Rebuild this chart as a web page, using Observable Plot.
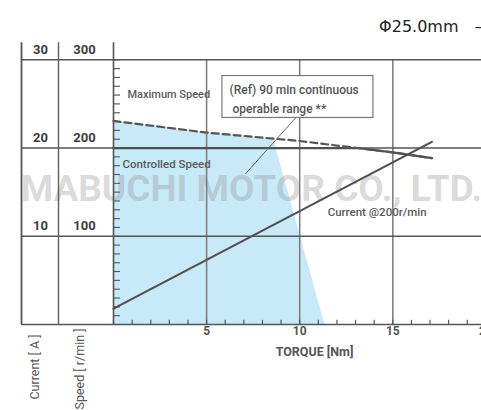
<!DOCTYPE html>
<html><head><meta charset="utf-8">
<script src="https://cdn.jsdelivr.net/npm/d3@7"></script>
<script src="https://cdn.jsdelivr.net/npm/@observablehq/plot@0.6"></script>
<style>
body{margin:0;background:#fff;overflow:hidden}
</style></head><body><div id="chart"></div>
<script>
// Maximum speed curve (dashed)
const maxTorque = [0, 5, 10, 12.5, 15, 17.1];
const maxSpeed = [230.7, 217.5, 208, 201.5, 195, 188.5];
// Controlled speed (solid)
const ctrlTorque = [0, 13.1, 15, 17.1];
const ctrlSpeed = [200, 200, 195, 188.5];
// Current @200r/min
const curTorque = [0, 17.1];
const curAmps = [1.8, 20.7];
// (Ref) 90 min continuous operable range (filled)
const rangeTorque = [0, 5, 8.6, 11.35];
const rangeSpeed = [230.7, 217.5, 210, 0];
// ticks
const speedTicks = [100, 200, 300];
const torqueTicks = [5, 10, 15, 20];
const minorSpeed = d3.range(0, 301, 10);
const minorTorque = d3.range(0, 21, 1);

const maxPts = maxTorque.map((t, i) => ({t, s: maxSpeed[i]}));
const ctrlPts = ctrlTorque.map((t, i) => ({t, s: ctrlSpeed[i]}));
const curPts = curTorque.map((t, i) => ({t, a: curAmps[i]}));
const rangePts = rangeTorque.map((t, i) => ({t, s: rangeSpeed[i]}));

const font = "Roboto, 'Liberation Sans', sans-serif";
const dark = "#505050";

const plot = Plot.plot({
  width: 481, height: 410,
  marginLeft: 113, marginRight: 0, marginTop: 59.3, marginBottom: 86,
  x: {domain: [0, 20], range: [113, 485.4], axis: null},
  y: {domain: [0, 300], axis: null},
  style: {fontFamily: font, background: "white", overflow: "hidden"},
  marks: [
    Plot.areaY(rangePts, {x: "t", y: "s", fill: "#c8e9f8"}),
    Plot.text(["MABUCHI MOTOR CO., LTD."], {frameAnchor: "middle", textAnchor: "middle", dx: -46, dy: -3, fontSize: 37, fontWeight: "bold", fill: "#8c8c8c", fillOpacity: 0.33, ariaLabel: "watermark"}),
    // grid
    Plot.ruleX(torqueTicks, {x: d => d, stroke: "#7a7a7a", strokeWidth: 1.5}),
    Plot.ruleY([0, ...speedTicks], {y: d => d, insetLeft: -92, stroke: "#555", strokeWidth: 1.5}),
    Plot.ruleX([0], {x: d => d, insetTop: -17, stroke: "#555", strokeWidth: 1.6}),
    Plot.ruleX([0], {x: d => d, dx: -55, insetTop: -17, stroke: "#666", strokeWidth: 1.5}),
    Plot.ruleX([0], {x: d => d, dx: -92, insetTop: -17, stroke: "#555", strokeWidth: 1.8}),
    // minor ticks
    Plot.ruleY(minorSpeed, {y: d => d, insetRight: 361, stroke: "#555", strokeWidth: 1.1}),
    Plot.ruleX(minorTorque, {x: d => d, insetTop: 260.5, stroke: "#555", strokeWidth: 1.2}),
    // curves
    Plot.line(ctrlPts, {x: "t", y: "s", stroke: dark, strokeWidth: 2.2}),
    Plot.line(curPts, {x: "t", y: d => d.a * 10, stroke: dark, strokeWidth: 2.2}), // 10 A = 100 r/min on shared grid
    Plot.line(maxPts, {x: "t", y: "s", stroke: "#555", strokeWidth: 2.2, strokeDasharray: "7,4"}),
    // left column labels
    Plot.text(speedTicks, {y: d => d, text: d => String(d), frameAnchor: "left", textAnchor: "middle", dx: -29, dy: -10, fontSize: 13, fontWeight: "bold", fill: "#3c3c3c"}),
    Plot.text(speedTicks, {y: d => d, text: d => String(d / 10), frameAnchor: "left", textAnchor: "middle", dx: -73, dy: -10, fontSize: 13, fontWeight: "bold", fill: "#3c3c3c"}),
    // x tick labels
    Plot.text(torqueTicks, {x: d => d, text: d => String(d), frameAnchor: "bottom", textAnchor: "middle", dy: 10, fontSize: 12, fontWeight: "bold", fill: "#555"}),
    Plot.text(["TORQUE [Nm]"], {frameAnchor: "bottom", textAnchor: "middle", dx: 17, dy: 31, fontSize: 12.5, fontWeight: "bold", fill: "#555"}),
    Plot.text(["Current [ A ]"], {frameAnchor: "bottom-left", rotate: -90, textAnchor: "end", dx: -75, dy: 10, fontSize: 12.5, fill: "#555"}),
    Plot.text(["Speed [ r/min ]"], {frameAnchor: "bottom-left", rotate: -90, textAnchor: "end", dx: -30, dy: 4, fontSize: 12.5, fill: "#555"}),
    // curve labels
    Plot.text(["Maximum Speed"], {x: 0.75, y: 261, textAnchor: "start", fontSize: 11, fontWeight: 500, fill: "#5a5a5a"}),
    Plot.text(["Controlled Speed"], {x: 0.48, y: 182, textAnchor: "start", fontSize: 11.5, fontWeight: 500, fill: "#5a5a5a"}),
    Plot.text(["Current @200r/min"], {x: 11.5, y: 126.6, textAnchor: "start", fontSize: 11.5, fontWeight: 500, fill: "#5a5a5a"}),
    // annotation
    Plot.link([0], {x1: 9.77, y1: 234, x2: 7.09, y2: 170.8, stroke: "#666", strokeWidth: 1}),
    Plot.rect([0], {x1: 5.85, x2: 13.96, y1: 234.1, y2: 281.6, fill: "white", stroke: "#777", strokeWidth: 1.2}),
    Plot.text(["(Ref) 90 min continuous\n\u00a0operable range **"], {x: 6.23, y: 257, textAnchor: "start", lineHeight: 1.55, fontSize: 12, fontWeight: 500, fill: "#555"}),
    // header
    Plot.text(["Φ25.0mm"], {frameAnchor: "top-right", textAnchor: "end", dx: -23, dy: -39, fontFamily: "DejaVu Sans", fontSize: 16, fill: "#222"}),
    Plot.text(["–"], {frameAnchor: "top-right", textAnchor: "start", dx: -7, dy: -39, fontFamily: "DejaVu Sans", fontSize: 16, fill: "#222"})
  ]
});
document.getElementById("chart").appendChild(plot);

// stretch watermark across the chart width
const wm = plot.querySelector('g[aria-label="watermark"] text');
if (wm) { wm.setAttribute("textLength", 453); wm.setAttribute("lengthAdjust", "spacingAndGlyphs"); }
</script></body></html>
